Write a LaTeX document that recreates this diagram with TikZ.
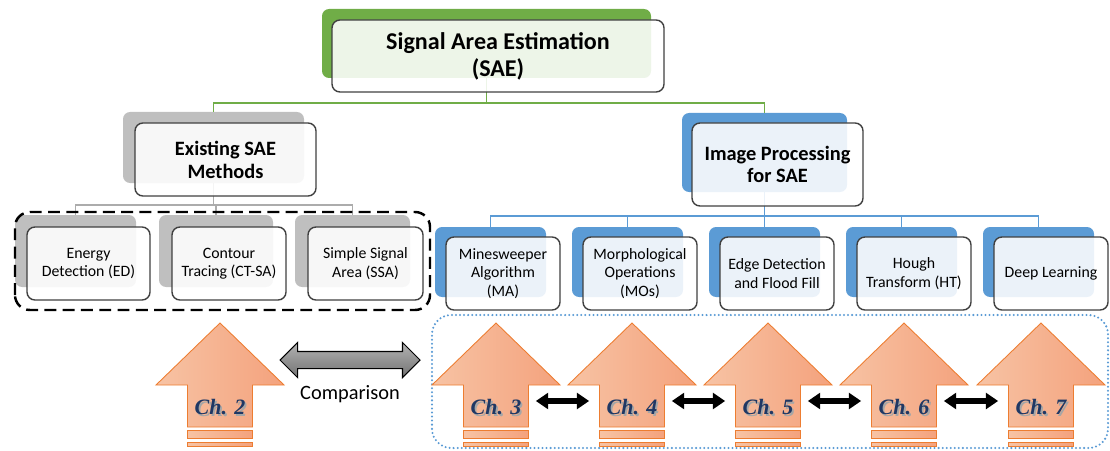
\documentclass[tikz,border=0pt]{standalone}
\usepackage{fontspec}
\setmainfont{Carlito}
\newfontfamily\chfont{Liberation Serif}
\usepackage{tikz}
\usetikzlibrary{arrows.meta, positioning, calc, shapes.arrows}
\definecolor{saeGreen}{HTML}{70AD47}
\definecolor{saeBlue}{HTML}{5B9BD5}
\definecolor{saeGray}{HTML}{BFBFBF}
\definecolor{chLight}{HTML}{F7C3A4}
\definecolor{chDark}{HTML}{F4A27D}
\definecolor{chEdge}{HTML}{ED7D31}
\definecolor{chNavy}{HTML}{1F3864}

\begin{document}
\begin{tikzpicture}[
    frontbox/.style={rectangle, rounded corners=4.5pt, draw=black!75, line width=0.8pt,
      fill=white, fill opacity=0.88, text opacity=1, align=center, inner sep=2pt},
    backbox/.style={rectangle, rounded corners=4pt, fill=#1, draw=none, inner sep=0pt},
    kidbox/.style={frontbox, minimum height=1.46cm, font=\fontsize{9}{10.5}\selectfont},
    headbox/.style={frontbox, font=\fontsize{11.6}{13}\selectfont\bfseries},
    link/.style={line width=1pt, draw=#1},
    chlabel/.style={minimum width=1.3cm, minimum height=0.6cm, inner sep=0pt,
      font=\chfont\fontsize{12.5}{14}\selectfont\bfseries\itshape, text=chNavy},
    chshape/.style={draw=chEdge, line width=0.5pt, left color=chLight, right color=chDark},
    dblarrow/.style={line width=3pt, black,
      {Triangle[length=7pt,width=9pt]}-{Triangle[length=7pt,width=9pt]}}
  ]
  \useasboundingbox (0,0) rectangle (22.2,9);
  % back boxes
  \node[backbox=saeGreen, minimum width=6.58cm, minimum height=1.38cm] (topbk) at (9.73,8.13) {};
  \node[backbox=saeGray, minimum width=3.62cm, minimum height=1.42cm] (existbk) at (4.27,6.05) {};
  \node[backbox=saeBlue, minimum width=3.3cm, minimum height=1.58cm] (imgpbk) at (15.29,5.95) {};
  \foreach \i/\x/\w in {1/1.77/2.42, 2/4.58/2.28, 3/7.31/2.3} {
    \node[backbox=saeGray, minimum width=\w cm, minimum height=1.44cm] (l\i bk) at (\x-0.26,3.98) {};
  }
  \foreach \i in {0,...,4} {
    \node[backbox=saeBlue, minimum width=2.22cm, minimum height=1.4cm] (r\i bk) at (9.81+2.74*\i,3.76) {};
  }
  % tree links
  \draw[link=saeGreen] (topbk.south) -- ++(0,-0.5) -| (existbk.north);
  \draw[link=saeGreen] (topbk.south) -- ++(0,-0.5) -| (imgpbk.north);
  \foreach \i in {1,2,3} {
    \draw[link=saeGray!90!black] (existbk.south) -- ++(0,-0.44) -| (l\i bk.north);
  }
  \foreach \i in {0,...,4} {
    \draw[link=saeBlue] (imgpbk.south) -- ++(0,-0.48) -| (r\i bk.north);
  }
  % front boxes
  \node[frontbox, minimum width=6.64cm, minimum height=1.44cm,
    font=\fontsize{13.7}{15.5}\selectfont\bfseries] (top) at (9.96,7.88) {Signal Area Estimation\\(SAE)};
  \node[headbox, minimum width=3.62cm, minimum height=1.46cm] (exist) at (4.51,5.81) {Existing SAE\\Methods};
  \node[headbox, minimum width=3.42cm, minimum height=1.66cm] (imgp) at (15.55,5.71) {Image Processing\\for SAE};
  \foreach \i/\x/\w/\lbl in {1/1.77/2.46/{Energy\\Detection (ED)}, 2/4.58/2.28/{Contour\\Tracing (CT-SA)},
      3/7.31/2.3/{Simple Signal\\Area (SSA)}} {
    \node[kidbox, minimum width=\w cm] (l\i) at (\x,3.73) {\lbl};
  }
  \foreach \i/\lbl in {0/{Minesweeper\\Algorithm\\(MA)}, 1/{Morphological\\Operations\\(MOs)},
      2/{Edge Detection\\and Flood Fill}, 3/{Hough\\Transform (HT)}, 4/{Deep Learning}} {
    \node[kidbox, minimum width=2.28cm] (r\i) at (10.06+2.74*\i,3.53) {\lbl};
  }
  % groups
  \draw[line width=1.4pt, dash pattern=on 6.8pt off 3.6pt, rounded corners=8.5pt] (0.3,2.8) rectangle (8.6,4.76);
  \draw[saeBlue, line width=1.3pt, line cap=round, dash pattern=on 0pt off 2.3pt, rounded corners=11pt]
    (8.64,0.04) rectangle (22.16,2.7);
  % chapter arrows
  \foreach \n/\x in {2/4.4, 3/9.92, 4/12.64, 5/15.36, 6/18.08, 7/20.82} {
    \draw[chshape] (\x,2.54) -- (\x+1.28,1.3) -- (\x+0.65,1.3) -- (\x+0.65,0.46)
      -- (\x-0.65,0.46) -- (\x-0.65,1.3) -- (\x-1.28,1.3) -- cycle;
    \draw[chshape] (\x-0.65,0.4) rectangle (\x+0.65,0.24);
    \draw[chshape] (\x-0.65,0.16) rectangle (\x+0.65,0.08);
    \node[chlabel, text=black!35] at (\x+0.035,0.825) {Ch. \n};
    \node[chlabel] (ch\n) at (\x,0.86) {Ch. \n};
  }
  \foreach \a/\b in {3/4, 4/5, 5/6, 6/7} {
    \draw[dblarrow] ([xshift=0.14cm,yshift=0.12cm]ch\a.east) -- ([xshift=-0.2cm,yshift=0.12cm]ch\b.west);
  }
  % comparison
  \node[double arrow, draw=black, line width=0.6pt, top color=black!30, bottom color=black!55,
    minimum height=2.8cm, inner xsep=0pt, inner ysep=0.16cm, double arrow head extend=0.18cm] (cmp) at (7.0,1.8) {};
  \node[below=6pt of cmp, font=\fontsize{11.6}{13}\selectfont] (cmptxt) {Comparison};
\end{tikzpicture}
\end{document}
